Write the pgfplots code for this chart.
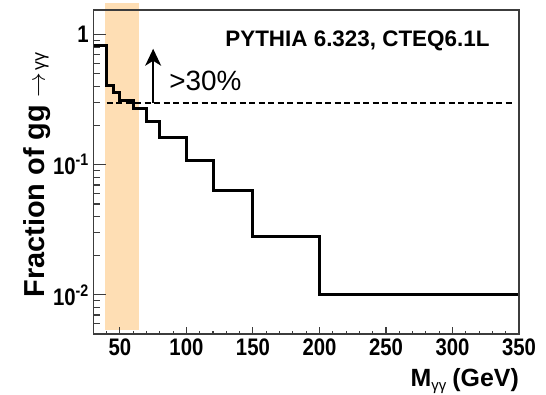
\documentclass[border=0pt]{standalone}
\usepackage{fontspec}
\setmainfont{Liberation Sans}
\newfontfamily\tickfont{Liberation Sans}[FakeStretch=0.85]
\usepackage{pgfplots}
\pgfplotsset{compat=1.18}
\usetikzlibrary{arrows.meta}
\definecolor{bandorange}{RGB}{254,222,180}
\definecolor{framegray}{RGB}{60,60,60}

\begin{document}
\begin{tikzpicture}
\path[use as bounding box] (0bp,0bp) rectangle (546bp,395bp);
\begin{axis}[
  at={(93.3bp,61bp)}, anchor=south west,
  scale only axis, width=425.7bp, height=324bp,
  ymode=log,
  xmin=30, xmax=350, ymin=0.005, ymax=1.55,
  /pgf/number format/assume math mode=true,
  ticklabel style={font=\tickfont\bfseries\fontsize{24}{24}\selectfont, text=black},
  clip=false,
  unbounded coords=jump,
  axis line style={framegray, line width=1.3bp},
  xtick=\empty,
  ytick align=inside,
  ytick pos=left,
  ytick={0.01,0.1,1},
  yticklabels={10\textsuperscript{-2},10\textsuperscript{-1},1},
  minor ytick={0.005,0.006,0.007,0.008,0.009,0.02,0.03,0.04,0.05,0.06,0.07,0.08,0.09,0.2,0.3,0.4,0.5,0.6,0.7,0.8,0.9},
  yticklabel style={xshift=-1bp},
  y tick style={line width=1.1bp, draw=framegray},
  major tick length=13bp, minor tick length=7bp,
]
% shaded mass window
\addplot[fill=bandorange, draw=none] coordinates
  {(39,0.00536) (64.5,0.00536) (64.5,1.75) (39,1.75)} -- cycle;

% fraction of gg -> gamma gamma per mass bin
\addplot[const plot mark left, black, line width=3bp] coordinates {
  (30,0.82) (40,0.41) (45,0.36) (50,0.313) (60,0.27) (70,0.215)
  (80,0.163) (100,0.108) (120,0.0638) (150,0.028) (200,0.01) (350,0.01)
};

% 30% reference level
\addplot[black, line width=1.8bp, dash pattern=on 6bp off 3.5bp] coordinates {(40,0.3) (345,0.3)};

% arrow above the 30% level
\addplot[black, line width=1.6bp, -{Stealth[length=17bp,width=16bp,inset=5bp]}] coordinates {(75,0.3) (75,0.78)};

% inward tick marks along the left edge (major and minor)
\addplot[framegray, line width=1.1bp, forget plot] coordinates {
  (30,0.01) (39.75,0.01) (30,nan) (30,0.1) (39.75,0.1) (30,nan) (30,1) (39.75,1) (30,nan)
  (30,0.006) (35.25,0.006) (30,nan) (30,0.007) (35.25,0.007) (30,nan)
  (30,0.008) (35.25,0.008) (30,nan) (30,0.009) (35.25,0.009) (30,nan)
  (30,0.02) (35.25,0.02) (30,nan) (30,0.03) (35.25,0.03) (30,nan)
  (30,0.04) (35.25,0.04) (30,nan) (30,0.05) (35.25,0.05) (30,nan)
  (30,0.06) (35.25,0.06) (30,nan) (30,0.07) (35.25,0.07) (30,nan)
  (30,0.08) (35.25,0.08) (30,nan) (30,0.09) (35.25,0.09) (30,nan)
  (30,0.2) (35.25,0.2) (30,nan) (30,0.3) (35.25,0.3) (30,nan)
  (30,0.4) (35.25,0.4) (30,nan) (30,0.5) (35.25,0.5) (30,nan)
  (30,0.6) (35.25,0.6) (30,nan) (30,0.7) (35.25,0.7) (30,nan)
  (30,0.8) (35.25,0.8) (30,nan) (30,0.9) (35.25,0.9)
};
% inward tick marks along the bottom edge (major and minor)
\addplot[framegray, line width=1.1bp, forget plot] coordinates {
  (50,0.005) (50,0.00566) (50,nan) (100,0.005) (100,0.00566) (100,nan)
  (150,0.005) (150,0.00566) (150,nan) (200,0.005) (200,0.00566) (200,nan)
  (250,0.005) (250,0.00566) (250,nan) (300,0.005) (300,0.00566) (300,nan)
  (40,0.005) (40,0.00532) (40,nan) (60,0.005) (60,0.00532) (60,nan)
  (70,0.005) (70,0.00532) (70,nan) (80,0.005) (80,0.00532) (80,nan)
  (90,0.005) (90,0.00532) (90,nan) (110,0.005) (110,0.00532) (110,nan)
  (120,0.005) (120,0.00532) (120,nan) (130,0.005) (130,0.00532) (130,nan)
  (140,0.005) (140,0.00532) (140,nan) (160,0.005) (160,0.00532) (160,nan)
  (170,0.005) (170,0.00532) (170,nan) (180,0.005) (180,0.00532) (180,nan)
  (190,0.005) (190,0.00532) (190,nan) (210,0.005) (210,0.00532) (210,nan)
  (220,0.005) (220,0.00532) (220,nan) (230,0.005) (230,0.00532) (230,nan)
  (240,0.005) (240,0.00532) (240,nan) (260,0.005) (260,0.00532) (260,nan)
  (270,0.005) (270,0.00532) (270,nan) (280,0.005) (280,0.00532) (280,nan)
  (290,0.005) (290,0.00532) (290,nan) (310,0.005) (310,0.00532) (310,nan)
  (320,0.005) (320,0.00532) (320,nan) (330,0.005) (330,0.00532) (330,nan)
  (340,0.005) (340,0.00532)
};

\node[anchor=base west, font=\bfseries\fontsize{22.5}{22.5}\selectfont]
  at (rel axis cs:0.302,0.8866) {PYTHIA 6.323, CTEQ6.1L};
\node[anchor=base west, inner sep=0pt, font=\fontsize{28}{28}\selectfont]
  at (rel axis cs:0.178,0.753) {>30\%};

\node[anchor=base east, inner sep=0pt]
  at (rel axis cs:1.0,-0.163)
  {{\bfseries\fontsize{25}{25}\selectfont M}\raisebox{-4bp}{\fontsize{15}{15}\selectfont γγ}\hspace{6bp}{\bfseries\fontsize{25}{25}\selectfont (GeV)}};
\node[anchor=base east, rotate=90, inner sep=0pt]
  at (rel axis cs:-0.1135,0.870)
  {{\bfseries\fontsize{29}{29}\selectfont Fraction of gg}\hspace{8bp}{\fontsize{24}{24}\selectfont$\rightarrow$}\hspace{2bp}{\fontsize{18}{18}\selectfont γγ}};
\end{axis}

% frame on top of the shaded window, with the bottom axis labels
\begin{axis}[
  at={(93.3bp,61bp)}, anchor=south west,
  scale only axis, width=425.7bp, height=324bp,
  ymode=log,
  xmin=30, xmax=350, ymin=0.005, ymax=1.55,
  /pgf/number format/assume math mode=true,
  ticklabel style={font=\tickfont\bfseries\fontsize{24}{24}\selectfont, text=black},
  axis line style={framegray, line width=1.3bp},
  ytick=\empty,
  xtick align=inside,
  xtick pos=left,
  xtick={50,100,...,350},
  minor xtick={40,60,70,80,90,110,120,130,140,160,170,180,190,210,220,230,240,260,270,280,290,310,320,330,340},
  x tick style={line width=1.1bp, draw=framegray},
  major tick length=7bp, minor tick length=3.5bp,
  xticklabel style={yshift=-1bp},
]
\end{axis}
\end{tikzpicture}
\end{document}
